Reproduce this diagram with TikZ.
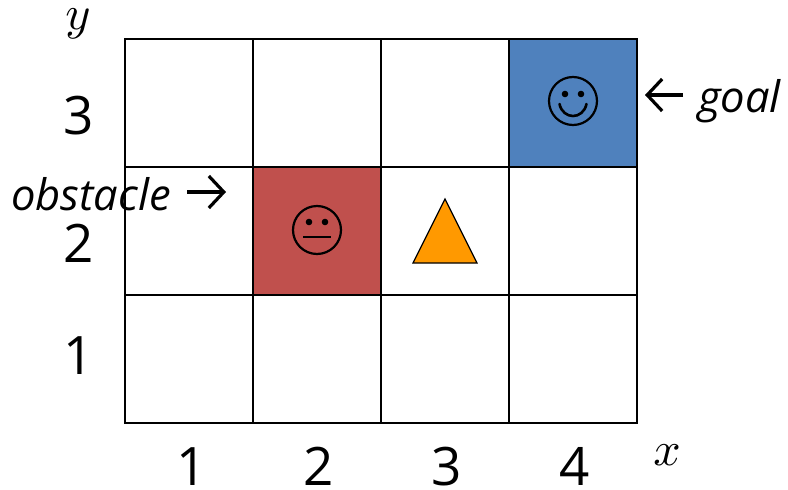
\documentclass[tikz,border=0pt]{standalone}
\usepackage{fontspec}
\setmainfont{Open Sans}
\usetikzlibrary{arrows.meta,shapes.geometric}
\definecolor{goalblue}{HTML}{4F81BD}
\definecolor{obstred}{HTML}{C0504D}
\definecolor{triorange}{HTML}{FF9900}
\tikzset{
  x=1pt,y=-1pt,
  cell/.style={draw=black,line width=1.7pt,minimum size=128pt,inner sep=0pt,outer sep=0pt,fill=white},
  num/.style={inner sep=0pt,font=\fontsize{53}{53}\selectfont},
  lab/.style={inner sep=0pt,font=\fontsize{43.5}{44}\selectfont\itshape},
  axis/.style={inner sep=0pt,scale=4.8},
  face/.style={line width=2.2pt,draw=black},
  pointer/.style={line width=3.2pt,-{Straight Barb[length=15pt,width=32pt,line width=3.2pt]}},
}
\begin{document}
\begin{tikzpicture}
\useasboundingbox (0,0) rectangle (788,490);
% grid
\foreach \c/\r/\f in {1/1/white,2/1/white,3/1/white,4/1/goalblue,
                      1/2/white,2/2/obstred,3/2/white,4/2/white,
                      1/3/white,2/3/white,3/3/white,4/3/white}{
  \node[cell,fill=\f] (c\c\r) at ({61+128*\c},{-25+128*\r}) {};
}
% happy face
\node[face,circle,minimum size=48pt,inner sep=0pt] (happy) at (573,101) {};
\fill (565,94) circle (3.3pt) (581,94) circle (3.3pt);
\draw[face,line width=2.6pt,line cap=round] (559.5,104) .. controls (563,120) and (583,120) .. (586.5,104);
% neutral face
\node[face,circle,minimum size=48pt,inner sep=0pt] (neutral) at (317,230) {};
\fill (309,222) circle (3.3pt) (325,222) circle (3.3pt);
\draw[face,line width=2.6pt] (303,237) -- (331,237);
% agent
\draw[line width=1.2pt,fill=triorange,line join=miter] (445,199) -- (477,263) -- (413,263) -- cycle;
% axis numbers
\node[num,anchor=base] (r3) at (79,134) {3};
\node[num,anchor=base] (r2) at (79,262) {2};
\node[num,anchor=base] (r1) at (79,374) {1};
\node[num,anchor=base] (b1) at (192,485) {1};
\node[num,anchor=base] (b2) at (319,485) {2};
\node[num,anchor=base] (b3) at (447,485) {3};
\node[num,anchor=base] (b4) at (575,485) {4};
\node[axis] (ax) at (667,455) {$x$};
\node[axis] (ay) at (78,24) {$y$};
% annotations
\node[lab,anchor=base west] (goal) at (698,112) {goal};
\node[lab,anchor=base west] (obst) at (11,210) {obstacle};
\coordinate (gt) at (683,95);
\coordinate (gh) at (645,95);
\coordinate (ot) at (187,192);
\coordinate (oh) at (226,192);
\draw[pointer] (gt) -- (gh);
\draw[pointer] (ot) -- (oh);
\end{tikzpicture}
\end{document}
